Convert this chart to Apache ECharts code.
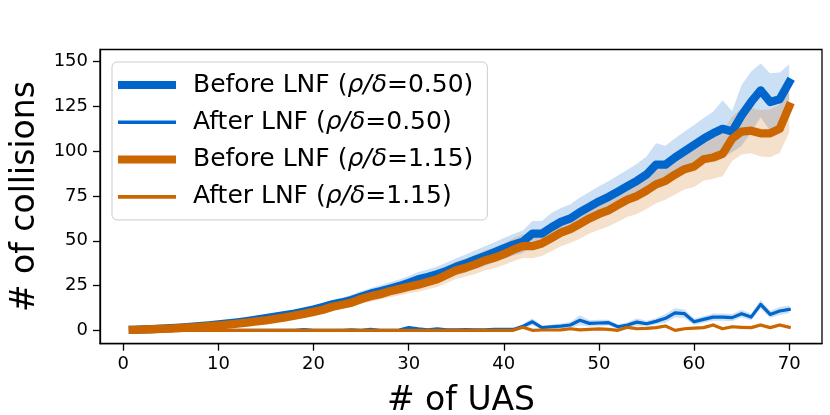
<!DOCTYPE html>
<html><head><meta charset="utf-8">
<script src="https://cdn.jsdelivr.net/npm/echarts@6/dist/echarts.min.js"></script>
<style>html,body{margin:0;padding:0;background:#fff}#c{width:830px;height:415px}</style>
</head><body><div id="c"></div><script>
const uas = [1,2,3,4,5,6,7,8,9,10,11,12,13,14,15,16,17,18,19,20,21,22,23,24,25,26,27,28,29,30,31,32,33,34,35,36,37,38,39,40,41,42,43,44,45,46,47,48,49,50,51,52,53,54,55,56,57,58,59,60,61,62,63,64,65,66,67,68,69,70];
const before050 = [0.3,0.5,0.7,0.9,1.2,1.5,1.9,2.3,2.8,3.3,3.9,4.5,5.2,6.0,6.8,7.6,8.5,9.4,10.5,11.6,13.0,14.5,15.6,17.0,18.8,20.5,21.8,23.2,24.7,26.5,28.5,29.8,31.3,33.2,35.5,37.3,39.5,41.5,43.6,45.8,47.8,49.5,54.0,54.0,57.5,60.5,62.5,66.0,69.0,72.0,74.5,77.5,80.5,83.5,87.0,92.5,92.5,96.5,100.0,103.5,107.0,110.0,112.5,111.0,120.0,127.5,134.0,127.5,129.0,138.5];
const before050Sd = [0.2,0.3,0.3,0.4,0.5,0.6,0.7,0.8,0.9,1.0,1.1,1.2,1.3,1.4,1.5,1.6,1.7,1.8,2.0,2.2,2.3,2.5,2.6,2.9,3.0,3.1,3.3,3.6,3.7,3.9,4.1,4.2,4.4,4.7,4.8,5.0,5.2,5.4,5.6,5.8,6.0,6.3,7.0,7.0,8.0,7.8,7.9,8.1,8.3,8.5,8.8,9.0,9.2,9.5,10.0,12.0,10.5,10.7,11.0,11.2,11.5,12.0,16.0,11.5,17.0,17.0,15.0,16.0,15.0,10.0];
const after050 = [0,0,0,0,0,0,0,0,0,0,0,0,0,0,0,0,0,0,0.4,0,0,0,0,0.3,0,0.5,0,0,0.2,1.5,0.8,0.3,0.8,0.3,0.3,0.4,0.3,0.3,0.6,0.5,0.5,2.2,4.8,1.5,2.0,2.4,3.0,5.6,3.9,4.1,4.3,2.0,3.0,4.6,3.7,5.0,6.7,9.8,9.3,4.8,6.1,7.4,7.4,7.1,9.3,7.4,14.5,8.9,10.8,11.7];
const after050Sd = [0,0,0,0,0,0,0,0,0,0,0,0,0,0,0,0,0,0,0.3,0,0,0,0,0.2,0,0.3,0,0,0.2,0.8,0.5,0.2,0.5,0.2,0.2,0.3,0.2,0.2,0.4,0.4,0.4,1.2,2.0,1.0,1.2,1.4,1.6,2.8,1.8,1.8,1.6,1.2,1.5,2.2,1.6,1.8,2.4,2.6,2.4,1.8,1.8,2.0,2.0,2.0,2.2,1.8,2.5,2.0,2.2,2.2];
const before115 = [0.3,0.4,0.6,0.8,1.0,1.3,1.6,1.9,2.3,2.8,3.2,3.7,4.3,5.0,5.6,6.4,7.2,8.2,9.2,10.3,11.5,13.2,14.3,15.5,17.5,19.0,20.2,21.8,23.0,24.3,25.5,27.0,28.5,31.0,33.5,35.0,36.8,39.0,40.5,42.5,45.0,47.0,47.0,48.5,51.5,54.5,56.5,59.5,62.5,65.0,67.0,70.0,73.0,75.0,78.0,81.5,83.5,87.0,90.0,91.5,95.5,96.5,98.5,107.0,111.0,111.5,110.0,110.0,112.5,125.0];
const before115Sd = [0.2,0.3,0.3,0.3,0.4,0.5,0.5,0.6,0.7,0.8,0.9,0.9,1.0,1.1,1.2,1.3,1.4,1.6,1.7,1.8,2.0,2.2,2.3,2.5,2.7,2.9,3.0,3.3,3.5,3.6,3.9,4.1,4.3,4.6,4.9,5.0,5.3,5.6,5.8,6.0,6.4,6.6,6.7,7.0,7.4,7.6,7.8,8.3,8.5,8.8,9.0,9.4,9.6,10.0,10.3,10.5,10.6,11.2,11.3,11.5,12.0,11.8,12.5,12.4,12.8,12.6,13.0,13.4,13.5,14.5];
const after115 = [0,0,0,0,0,0,0,0,0,0,0,0,0,0,0,0,0,0,0,0,0,0,0,0,0,0,0,0,0,0,0,0,0,0,0,0,0,0,0,0,0,1.7,0,0.2,0.2,0.3,0.9,0.3,0.5,0.8,0.5,0,1.7,0.9,1.1,1.5,2.4,0,0.9,1.2,1.5,3.0,0.9,2.0,1.7,1.5,3.0,1.5,3.0,1.7];
const after115Sd = [0,0,0,0,0,0,0,0,0,0,0,0,0,0,0,0,0,0,0,0,0,0,0,0,0,0,0,0,0,0,0,0,0,0,0,0,0,0,0,0,0,0.8,0,0.2,0.2,0.3,0.5,0.3,0.4,0.5,0.4,0,0.8,0.5,0.6,0.7,1.0,0,0.5,0.6,0.7,1.0,0.5,0.8,0.7,0.7,1.0,0.7,1.0,0.8];

const seriesNames = ['Before LNF', 'After LNF', 'Before LNF', 'After LNF'];
const ratioLabels = ['0.50', '0.50', '1.15', '1.15'];
const xTicks = [0,10,20,30,40,50,60,70];
const yTicks = [0,25,50,75,100,125,150];

const BLUE = '#0066cc', ORANGE = '#cc6600';
const FONT = 'DejaVu Sans';
const means = [before050, after050, before115, after115];
const sds = [before050Sd, after050Sd, before115Sd, after115Sd];
const colors = [BLUE, BLUE, ORANGE, ORANGE];
const bandColors = ['rgba(0,102,204,0.2)','rgba(0,102,204,0.2)','rgba(204,102,0,0.2)','rgba(204,102,0,0.2)'];
const widths = [8.3, 3.2, 8.3, 3.2];
const fullNames = seriesNames.map((n, i) => n + ' (ρ/δ=' + ratioLabels[i] + ')');

const thickIcon = 'path://M0,0L70,0L70,0.01ZM0,1L58,1L58,9L0,9ZM0,10L70,10L70,9.99Z';
const thinIcon = 'path://M0,0L70,0L70,0.01ZM0,3.2L58,3.2L58,6.8L0,6.8ZM0,10L70,10L70,9.99Z';

const series = [];
means.forEach((m, k) => {
  const lo = m.map((v, i) => Math.max(0, v - sds[k][i]));
  const hi = m.map((v, i) => v + sds[k][i]);
  const rows = uas.map((x, i) => [x, lo[i], hi[i]]);
  series.push({
    type: 'custom', name: 'band_' + k, silent: true, z: 1,
    data: rows,
    encode: { x: 0, y: [1, 2] },
    renderItem: function (params, api) {
      if (params.dataIndex !== 0) return null;
      const top = rows.map(r => api.coord([r[0], r[2]]));
      const bot = rows.map(r => api.coord([r[0], r[1]])).reverse();
      return {
        type: 'polygon',
        shape: { points: top.concat(bot) },
        style: { fill: bandColors[k], stroke: null }
      };
    }
  });
});
means.forEach((m, k) => {
  series.push({
    type: 'line', name: fullNames[k], z: 3,
    symbol: 'none', showSymbol: false,
    itemStyle: { color: colors[k] },
    lineStyle: { color: colors[k], width: widths[k], cap: 'square', join: 'round' },
    data: uas.map((x, i) => [x, m[i]])
  });
});

const chart = echarts.init(document.getElementById('c'), null, { renderer: 'canvas' });
chart.setOption({
  animation: false,
  backgroundColor: '#fff',
  textStyle: { fontFamily: FONT },
  grid: { left: 100, right: 8, top: 49.5, bottom: 71.3, show: true, borderColor: '#000', borderWidth: 1.3, backgroundColor: 'transparent', outerBoundsMode: 'none' },
  legend: {
    orient: 'vertical', left: 112, top: 62,
    selectedMode: false,
    itemWidth: 70, itemHeight: 10, itemGap: 9.3,
    padding: [9, 14, 9, 6],
    backgroundColor: 'rgba(255,255,255,0.8)', borderColor: '#cccccc', borderWidth: 1, borderRadius: 5,
    data: fullNames.map((n, i) => ({ name: n, icon: (i % 2 === 0) ? thickIcon : thinIcon, itemStyle: { color: colors[i] } })),
    formatter: function (name) {
      const i = fullNames.indexOf(name);
      return '{n|' + seriesNames[i] + ' (}{i|ρ/δ}{n|=' + ratioLabels[i] + ')}';
    },
    textStyle: {
      fontFamily: FONT, fontSize: 25, color: '#000', lineHeight: 28,
      rich: {
        n: { fontFamily: FONT, fontSize: 25, color: '#000', lineHeight: 28 },
        i: { fontFamily: FONT, fontSize: 25, color: '#000', lineHeight: 28, fontStyle: 'italic' }
      }
    }
  },
  xAxis: {
    type: 'value', min: -2.45, max: 73.45,
    name: '# of UAS', nameLocation: 'middle', nameGap: 41,
    nameTextStyle: { fontFamily: FONT, fontSize: 33, color: '#000' },
    axisLine: { show: true, onZero: false, lineStyle: { color: '#000', width: 1.3 } },
    axisTick: { show: true, length: 7, lineStyle: { color: '#000', width: 1.3 }, customValues: xTicks },
    axisLabel: { customValues: xTicks, fontFamily: FONT, fontSize: 18, color: '#000', margin: 12 },
    splitLine: { show: false }
  },
  yAxis: {
    type: 'value', min: -7.46, max: 156.8,
    name: '# of collisions', nameLocation: 'middle', nameGap: 58,
    nameTextStyle: { fontFamily: FONT, fontSize: 33, color: '#000' },
    axisLine: { show: true, onZero: false, lineStyle: { color: '#000', width: 1.3 } },
    axisTick: { show: true, length: 7, lineStyle: { color: '#000', width: 1.3 }, customValues: yTicks },
    axisLabel: { customValues: yTicks, fontFamily: FONT, fontSize: 18, color: '#000', margin: 12 },
    splitLine: { show: false }
  },
  series: series
});
</script></body></html>
